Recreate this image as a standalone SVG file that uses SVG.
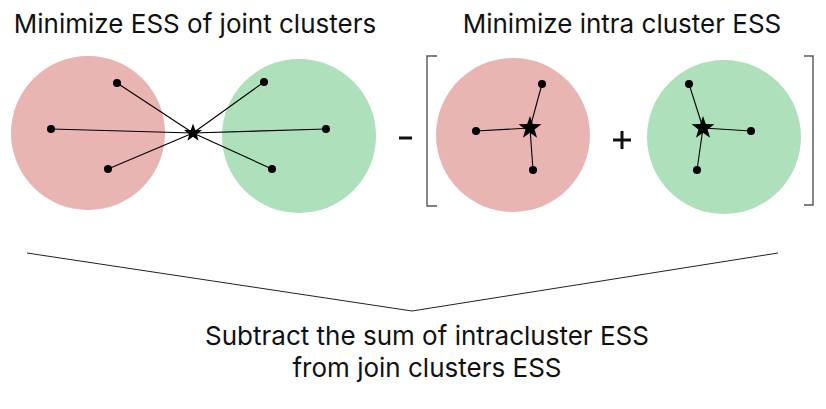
<svg xmlns="http://www.w3.org/2000/svg" width="826" height="409" viewBox="0 0 826 409">
  <style>
    .red { fill: #E8B5B3; }
    .green { fill: #AEE1BB; }
    .dot { fill: #000; }
    .edge { stroke: #000; stroke-width: 1.1; fill: none; }
    .bracket { stroke: #555; stroke-width: 1.4; fill: none; }
    .brace { stroke: #222; stroke-width: 1; fill: none; }
    .title { font-family: Inter, "Liberation Sans", sans-serif; font-size: 26px; fill: #111; text-anchor: middle; }
    .op { stroke: #111; stroke-width: 3; fill: none; }
  </style>
  <defs>
    <path id="star" d="M0,-10 L2.35,-3.24 L9.51,-3.09 L3.80,1.24 L5.88,8.09 L0,4 L-5.88,8.09 L-3.80,1.24 L-9.51,-3.09 L-2.35,-3.24 Z" fill="#000"/>
  </defs>

  <g id="title-joint"><text class="title" x="195" y="33">Minimize ESS of joint clusters</text></g>
  <g id="title-intra"><text class="title" x="622" y="33">Minimize intra cluster ESS</text></g>

  <g id="joint-red"><circle class="red" cx="88" cy="133" r="77"/></g>
  <g id="joint-green"><circle class="green" cx="299" cy="136" r="77"/></g>
  <g id="intra-red"><circle class="red" cx="513" cy="135" r="77"/></g>
  <g id="intra-green"><circle class="green" cx="724" cy="137" r="77"/></g>

  <g id="connectors">
    <line class="edge" x1="117" y1="83" x2="193" y2="133"/>
    <line class="edge" x1="51" y1="129" x2="193" y2="133"/>
    <line class="edge" x1="108" y1="169" x2="193" y2="133"/>
    <line class="edge" x1="264" y1="82" x2="193" y2="133"/>
    <line class="edge" x1="326" y1="129" x2="193" y2="133"/>
    <line class="edge" x1="272" y1="169" x2="193" y2="133"/>
    <line class="edge" x1="542" y1="84" x2="530" y2="128"/>
    <line class="edge" x1="476" y1="131" x2="530" y2="128"/>
    <line class="edge" x1="533" y1="170" x2="530" y2="128"/>
    <line class="edge" x1="689" y1="84" x2="703" y2="128"/>
    <line class="edge" x1="751" y1="131" x2="703" y2="128"/>
    <line class="edge" x1="697" y1="170" x2="703" y2="128"/>
    <polyline class="brace" points="27,253 412,311 778,253"/>
  </g>

  <g id="joint-points">
    <circle class="dot" cx="117" cy="83" r="4"/>
    <circle class="dot" cx="51" cy="129" r="4"/>
    <circle class="dot" cx="108" cy="169" r="4"/>
    <circle class="dot" cx="264" cy="82" r="4"/>
    <circle class="dot" cx="326" cy="129" r="4"/>
    <circle class="dot" cx="272" cy="169" r="4"/>
    <use href="#star" transform="translate(193,133) scale(0.95)"/>
  </g>

  <g id="minus"><line class="op" x1="399" y1="138" x2="412" y2="138"/></g>
  <g id="bracket-left"><polyline class="bracket" points="437,56 427,56 427,206 437,206"/></g>

  <g id="intra-red-points">
    <circle class="dot" cx="542" cy="84" r="4"/>
    <circle class="dot" cx="476" cy="131" r="4"/>
    <circle class="dot" cx="533" cy="170" r="4"/>
    <use href="#star" transform="translate(530,128) scale(1.2)"/>
  </g>
  <g id="plus">
    <line class="op" x1="613" y1="140" x2="631" y2="140"/>
    <line class="op" x1="622" y1="131" x2="622" y2="149"/>
  </g>
  <g id="intra-green-points">
    <circle class="dot" cx="689" cy="84" r="4"/>
    <circle class="dot" cx="751" cy="131" r="4"/>
    <circle class="dot" cx="697" cy="170" r="4"/>
    <use href="#star" transform="translate(703,128) scale(1.2)"/>
  </g>
  <g id="bracket-right"><polyline class="bracket" points="804,56 813,56 813,205 804,205"/></g>

  <g id="summary">
    <text class="title" x="427" y="345">Subtract the sum of intracluster ESS</text>
    <text class="title" x="427" y="377">from join clusters ESS</text>
  </g>
</svg>
